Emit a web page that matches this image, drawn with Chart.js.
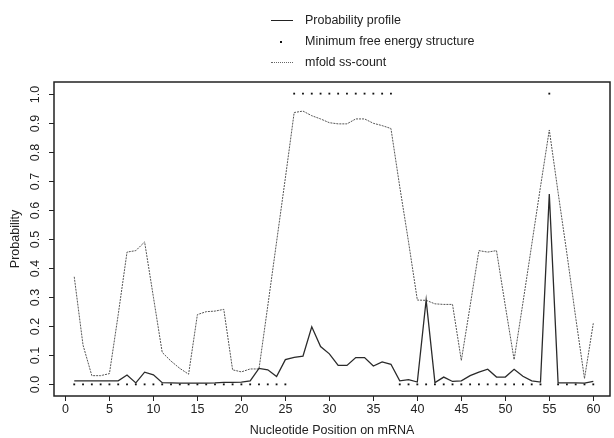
<!DOCTYPE html>
<html>
<head>
<meta charset="utf-8">
<script src="https://cdn.jsdelivr.net/npm/chart.js@4.4.1/dist/chart.umd.min.js"></script>
<style>
    html, body { margin: 0; padding: 0; background: #fff; }
    #wrap { position: relative; width: 614px; height: 438px; }
    #legend { position: absolute; left: 268px; top: 9px; font: 12.5px "Liberation Sans", Arial, sans-serif; color: #222; }
    .row { height: 21px; display: flex; align-items: center; }
    .key { width: 37px; height: 10px; position: relative; }
    .key span { position: absolute; }
    .solid { left: 3px; top: 5px; width: 22px; border-top: 1px solid #222; }
    .dot { left: 12px; top: 5px; width: 2px; height: 2px; background: #111; }
    .dotted { left: 3px; top: 5px; width: 22px; border-top: 1px dotted #666; }
</style>
</head>
<body>
<div id="wrap">
    <canvas id="chart" width="614" height="438"></canvas>
    <div id="legend">
        <div class="row"><div class="key"><span class="solid"></span></div>Probability profile</div>
        <div class="row"><div class="key"><span class="dot"></span></div>Minimum free energy structure</div>
        <div class="row"><div class="key"><span class="dotted"></span></div>mfold ss-count</div>
    </div>
</div>
<script>
// --- DATA ---
const positions = [1, 2, 3, 4, 5, 6, 7, 8, 9, 10, 11, 12, 13, 14, 15, 16, 17, 18, 19, 20,
    21, 22, 23, 24, 25, 26, 27, 28, 29, 30, 31, 32, 33, 34, 35, 36, 37, 38, 39, 40,
    41, 42, 43, 44, 45, 46, 47, 48, 49, 50, 51, 52, 53, 54, 55, 56, 57, 58, 59, 60];

const probProfile = [0.012, 0.012, 0.012, 0.012, 0.012, 0.012, 0.032, 0.005, 0.042, 0.033,
    0.006, 0.005, 0.004, 0.004, 0.004, 0.004, 0.005, 0.007, 0.007, 0.008,
    0.012, 0.055, 0.050, 0.027, 0.085, 0.093, 0.097, 0.198, 0.130, 0.105,
    0.065, 0.065, 0.092, 0.092, 0.063, 0.077, 0.069, 0.012, 0.016, 0.008,
    0.290, 0.006, 0.025, 0.010, 0.012, 0.030, 0.042, 0.052, 0.025, 0.025,
    0.052, 0.028, 0.012, 0.008, 0.655, 0.005, 0.005, 0.005, 0.004, 0.010];

const mfeStructure = [0, 0, 0, 0, 0, 0, 0, 0, 0, 0, 0, 0, 0, 0, 0, 0, 0, 0, 0, 0,
    0, 0, 0, 0, 0, 1, 1, 1, 1, 1, 1, 1, 1, 1, 1, 1, 1, 0, 0, 0,
    0, 0, 0, 0, 0, 0, 0, 0, 0, 0, 0, 0, 0, 0, 1, 0, 0, 0, 0, 0];

const mfoldCount = [0.37, 0.135, 0.03, 0.03, 0.037, 0.24, 0.455, 0.46, 0.49, 0.30,
    0.11, 0.08, 0.055, 0.035, 0.24, 0.25, 0.252, 0.258, 0.05, 0.043,
    0.053, 0.053, 0.27, 0.49, 0.71, 0.935, 0.94, 0.924, 0.913, 0.90,
    0.896, 0.896, 0.913, 0.913, 0.898, 0.89, 0.88, 0.68, 0.49, 0.29,
    0.289, 0.277, 0.275, 0.275, 0.082, 0.27, 0.46, 0.455, 0.46, 0.27,
    0.085, 0.28, 0.48, 0.68, 0.875, 0.66, 0.45, 0.23, 0.02, 0.21];

const xTicks = [0, 5, 10, 15, 20, 25, 30, 35, 40, 45, 50, 55, 60];
const yTicks = [0.0, 0.1, 0.2, 0.3, 0.4, 0.5, 0.6, 0.7, 0.8, 0.9, 1.0];

const FONT = '12.5px "Liberation Sans", Arial, sans-serif';

function pts(vals) {
    return positions.map((p, i) => ({ x: p, y: vals[i] }));
}

// --- R STYLE BOX + AXES ---
const rAxes = {
    id: 'rAxes',
    afterDraw(chart) {
        const { ctx, chartArea: a, scales: { x, y } } = chart;
        ctx.save();
        ctx.strokeStyle = '#222';
        ctx.lineWidth = 1.5;
        ctx.strokeRect(a.left, a.top, a.right - a.left, a.bottom - a.top);

        ctx.lineWidth = 1;
        ctx.fillStyle = '#222';
        ctx.font = FONT;
        ctx.textAlign = 'center';
        ctx.textBaseline = 'middle';

        xTicks.forEach(v => {
            const px = Math.round(x.getPixelForValue(v)) + 0.5;
            ctx.beginPath(); ctx.moveTo(px, a.bottom); ctx.lineTo(px, a.bottom + 5); ctx.stroke();
            ctx.fillText(String(v), px, a.bottom + 14);
        });
        yTicks.forEach(v => {
            const py = Math.round(y.getPixelForValue(v)) + 0.5;
            ctx.beginPath(); ctx.moveTo(a.left - 5, py); ctx.lineTo(a.left, py); ctx.stroke();
            ctx.save();
            ctx.translate(a.left - 18, py);
            ctx.rotate(-Math.PI / 2);
            ctx.fillText(v.toFixed(1), 0, 0);
            ctx.restore();
        });

        ctx.fillText('Nucleotide Position on mRNA', (a.left + a.right) / 2, a.bottom + 35);
        ctx.save();
        ctx.translate(16, (a.top + a.bottom) / 2);
        ctx.rotate(-Math.PI / 2);
        ctx.fillText('Probability', 0, 0);
        ctx.restore();
        ctx.restore();
    }
};

function renderChart() {
    const ctx = document.getElementById('chart').getContext('2d');
    new Chart(ctx, {
        type: 'line',
        data: {
            datasets: [{
                label: 'Probability profile',
                data: pts(probProfile),
                borderColor: '#2a2a2a',
                borderWidth: 1.3,
                pointRadius: 0,
                tension: 0
            }, {
                label: 'Minimum free energy structure',
                data: pts(mfeStructure),
                showLine: false,
                pointStyle: 'rect',
                pointRadius: 1.3,
                pointBackgroundColor: '#111',
                pointBorderWidth: 0
            }, {
                label: 'mfold ss-count',
                data: pts(mfoldCount),
                borderColor: '#555',
                borderWidth: 1,
                borderDash: [2, 1],
                pointRadius: 0,
                tension: 0
            }]
        },
        options: {
            responsive: false,
            animation: false,
            devicePixelRatio: 1,
            layout: { padding: { left: 54, top: 82, right: 4, bottom: 42 } },
            plugins: { legend: { display: false }, tooltip: { enabled: false } },
            scales: {
                x: { type: 'linear', min: -1.3, max: 61.9, display: false },
                y: { min: -0.04, max: 1.04, display: false }
            }
        },
        plugins: [rAxes]
    });
}

renderChart();
</script>
</body>
</html>
